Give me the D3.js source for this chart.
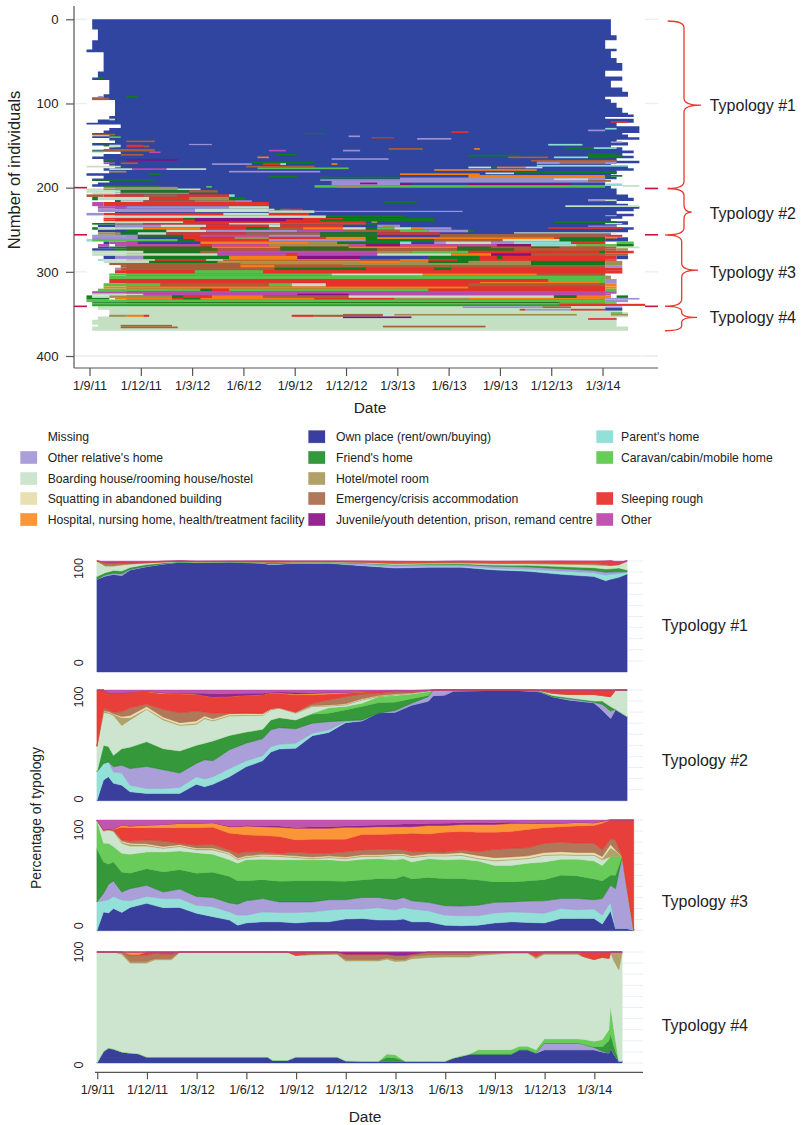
<!DOCTYPE html>
<html>
<head>
<meta charset="utf-8">
<script src="https://cdn.jsdelivr.net/npm/d3@7"></script>
<style>
  html, body { margin: 0; padding: 0; background: #fff; }
  svg { display: block; }
  text { font-family: "Liberation Sans", Arial, sans-serif; fill: #222; }
</style>
</head>
<body>
<div id="chart"></div>
<script>
// Housing states, in stacking order
const own = 0, par = 1, rel = 2, fri = 3, car = 4, boa = 5, hot = 6, squ = 7, eme = 8, slp = 9, hos = 10, juv = 11, oth = 12;
const lineColors = ['#2f45a0', '#8adcd4', '#9c90d0', '#0f7a1e', '#55c04a', '#c4dfc2', '#a09050', '#e6dc9e', '#a5603a', '#e2322a', '#f57f17', '#861080', '#b84cb0'];
const fillColors = ['#3a3f9e', '#93e0d8', '#ab9fd9', '#35983a', '#69cc5a', '#cde5cf', '#b0a26a', '#e8e0b4', '#b0785a', '#e83f3a', '#fb9638', '#93268f', '#c055b0'];

// Legend, read column by column
const legendLabels = ['Missing', "Other relative's home", 'Boarding house/rooming house/hostel', 'Squatting in abandoned building', 'Hospital, nursing home, health/treatment facility',
  'Own place (rent/own/buying)', "Friend's home", 'Hotel/motel room', 'Emergency/crisis accommodation', 'Juvenile/youth detention, prison, remand centre',
  "Parent's home", 'Caravan/cabin/mobile home', '', 'Sleeping rough', 'Other'];
const legendStates = [null, rel, boa, squ, hos, own, fri, hot, eme, juv, par, car, null, slp, oth];

const topTickRows = [0, 100, 200, 300, 400];
const dateLabels = ['1/9/11', '1/12/11', '1/3/12', '1/6/12', '1/9/12', '1/12/12', '1/3/13', '1/6/13', '1/9/13', '1/12/13', '1/3/14'];
const typologyNames = ['Typology #1', 'Typology #2', 'Typology #3', 'Typology #4'];

// Index plot. Time unit is a ten day period; each row is one person.
// Outer edges of the main state as [last row, period]
const leftEdge = [[12, 0], [25, 1], [36, 0], [39, -1], [62, 2], [69, 1], [72, 0], [89, 3], [93, 2], [96, 0], [115, 4], [119, 3], [123, 1], [125, -1], [129, 5], [132, 3], [135, 2], [137, 0], [139, 3], [141, 0], [144, 3], [147, 4], [150, 0], [152, 4], [155, 3], [157, 0], [160, 5], [163, 2], [166, 0], [170, 2], [174, 3], [177, 4], [180, 2], [183, 3], [186, -1], [189, 2], [192, 0], [194, 3], [196, 1], [199, 0], [256, 4], [341, 6], [345, 1], [353, 3], [357, 1], [363, 0], [365, 1], [370, 0]];
const rightEdge = [[19, 91], [25, 92], [35, 90], [38, 92], [46, 91], [52, 92], [61, 93], [68, 90], [73, 93], [81, 91], [86, 93], [92, 94], [95, 90], [99, 91], [105, 92], [111, 93], [113, 94], [116, 95], [118, 90], [123, 95], [127, 92], [130, 96], [135, 96], [137, 93], [140, 94], [143, 96], [146, 92], [150, 94], [152, 91], [156, 93], [159, 95], [162, 93], [165, 95], [168, 92], [171, 96], [174, 91], [177, 94], [180, 95], [184, 92], [187, 91], [190, 92], [194, 90], [198, 90], [201, 91], [205, 92], [208, 92], [212, 94], [216, 95], [219, 92], [222, 94], [225, 96], [228, 95], [231, 92], [234, 95], [237, 93], [240, 91], [244, 94], [247, 92], [250, 95], [253, 94], [256, 91], [341, 90], [345, 90], [348, 93], [354, 94], [362, 92], [365, 92], [370, 94]];
// Main state of each typology block as [first row, last row, state]
const baseBlocks = [[0, 256, own], [256, 341, slp], [341, 370, boa]];

// Spells as [first row, last row, first period, last period, state]
const typology1Spells = [
  [69, 71, 1, 2, fri], [91, 93, 1, 2, rel], [93, 96, 0, 3, eme], [91, 93, 6, 8, fri], [118, 120, 3, 4, boa],
  [135, 136.5, 37, 41, fri], [138, 140, 45, 47, rel], [140, 141.5, 49, 53, slp], [153, 155, 52, 54, eme], [148, 149.5, 17, 21, rel],
  [155, 157, 31, 34, oth], [160, 161.5, 32, 36, fri], [163, 165, 29, 31, hos], [155, 157, 44, 47, rel], [165, 167, 42, 52, rel],
  [171, 173, 42, 43, hos], [169, 171, 28, 39, fri], [171, 173, 21, 28, rel], [171, 173, 30, 33, slp], [171, 173, 33, 34, boa],
  [174, 176, 27, 39, eme], [176, 178, 29, 45, car], [180, 182, 24, 40, rel], [177, 179, 13, 20, boa], [177, 179, 7, 13, oth],
  [183, 185, 10, 12, fri], [186, 188, 31, 36, fri], [187, 189, 40, 54, fri], [190, 192, 40, 54, rel], [192, 197, 42, 54, rel],
  [194, 196, 47, 50, juv], [197, 200, 39, 54, car], [197, 200, 43, 47, hot], [198, 200, 20, 21, car], [216, 218, 51, 57, fri],
  [136, 138, 0, 4, eme], [139, 141, 3, 5, car], [144, 146, 6, 11, eme], [149, 152, 6, 9, slp], [149, 151, 2, 3, fri],
  [149, 152, 3, 5, boa], [150, 152, 9, 10, eme], [154, 157, 2, 11, eme], [156, 158, 0, 2, car], [157, 159, 10, 12, oth],
  [160, 162, 5, 9, eme], [166, 168, 2, 4, fri], [166, 168, 6, 15, juv], [170, 172, 2, 4, oth], [170, 172, 5, 8, eme],
  [174, 176, -1, 5, boa], [177, 179, 3, 7, boa], [180, 182, 3, 6, hot], [190, 192, 0, 11, fri], [197, 199, 2, 12, fri],
  [199, 201, 2, 15, hot],
  [133, 135, 63, 66, slp], [141, 143, 57, 63, rel], [131, 133, 87, 90, rel], [129, 131, 90, 92, par], [121, 123, 91, 94, slp],
  [148, 150, 80, 86, par], [152, 154, 83, 88, fri], [152, 154, 88, 92, par], [145, 147, 91, 93, rel], [153, 155, 54, 58, eme],
  [153, 155, 67, 68, hos], [159, 161, 87, 92, fri], [161, 163, 66, 75, fri], [163, 165, 73, 80, eme], [163, 165, 81, 87, par],
  [161, 165, 87, 91, fri], [161, 164, 91, 93, fri], [167, 169, 77, 92, eme], [169, 172, 78, 92, rel], [170, 172, 82, 90, eme],
  [173, 175, 78, 94, par], [175, 177, 66, 70, boa], [175, 177, 70, 71, fri], [175, 177, 71, 76, hos], [175, 177, 76, 79, boa],
  [178, 180, 60, 78, hos], [181, 183, 74, 92, fri], [182, 184, 69, 74, boa], [183, 185, 54, 68, hos], [185, 189, 66, 90, hos],
  [185, 187, 90, 93, fri], [188, 194, 54, 90, rel], [189, 191, 81, 87, boa], [191, 193, 87, 91, eme], [195, 197, 54, 56, juv],
  [195, 197, 66, 84, juv], [197, 200, 54, 90, car], [195, 198, 90, 93, par], [197, 199, 93, 96, boa]
];
const typology2Spells = [
  [201, 203, -1, 19, boa], [201, 203, 2, 15, hot], [203, 206, -1, 5, boa], [203, 206, 5, 17, fri], [203, 206, 17, 22, eme],
  [206, 208, 0, 5, boa], [206, 208, 5, 17, hot], [206, 208, 17, 22, fri], [208, 211, -1, 2, eme], [208, 211, 2, 9, slp],
  [208, 211, 9, 15, eme], [208, 211, 15, 24, slp], [208, 211, 24, 25, par], [211, 215, 0, 1, fri], [211, 215, 1, 10, boa],
  [211, 215, 10, 17, slp], [211, 215, 17, 24, hot], [211, 215, 24, 27, fri], [215, 217, 4, 5, fri], [215, 217, 5, 9, boa],
  [215, 217, 9, 18, eme], [215, 217, 18, 25, hot], [215, 217, 25, 28, rel], [217, 222, 0, 2, oth], [217, 222, 2, 31, slp],
  [222, 225, 1, 6, oth], [222, 225, 6, 24, rel], [222, 225, 24, 31, boa], [225, 229, 1, 18, rel], [225, 229, 18, 31, boa],
  [225, 227, 31, 32, boa], [225, 227, 32, 33, fri], [225, 227, 33, 35, eme], [225, 227, 35, 37, slp], [227, 230, 31, 39, boa],
  [227.5, 229, 39, 65, rel], [230, 233, -1, 2, rel], [230, 233, 2, 23, slp], [230, 233, 23, 31, boa], [230, 233, 31, 38, slp],
  [233, 236, 2, 41, boa], [233, 235, 41, 55, fri], [236, 238, 2, 16, slp], [236, 238, 16, 18, fri], [236, 238, 18, 37, juv],
  [236, 238, 37, 44, slp], [236, 238, 44, 60, fri], [238, 240, 2, 18, slp], [238, 240, 18, 34, juv], [238, 240, 34, 40, slp],
  [238, 240, 40, 60, fri], [240, 242, 2, 16, boa], [240, 242, 16, 48, slp], [240, 242, 49, 50, hot], [242, 244, 0, 4, fri],
  [242, 244, 4, 9, hot], [242, 244, 9, 24, slp], [242, 244, 24, 33, boa], [242, 244, 33, 48, eme], [242, 244, 48, 50, fri],
  [244, 247, 1, 4, own], [244, 247, 4, 12, rel], [244, 247, 12, 20, boa], [244, 247, 20, 31, slp], [244, 247, 31, 33, boa],
  [244, 247, 33, 44, slp], [244, 247, 50, 54, rel], [245, 247, 51, 53, hot], [247, 250, 0, 1, fri], [247, 250, 1, 9, boa],
  [247, 250, 9, 19, hos], [247, 250, 19, 27, slp], [247, 250, 27, 31, fri], [247, 250, 31, 37, eme], [247, 250, 37, 44, hos],
  [247, 250, 44, 48, boa], [247, 250, 48, 50, fri], [247, 250, 50, 53, car], [247, 250, 53, 56, boa], [247, 250, 56, 58, hos],
  [247, 250, 58, 63, rel], [250, 253, 1, 6, own], [250, 253, 6, 13, fri], [250, 253, 13, 20, boa], [250, 253, 20, 36, rel],
  [250, 253, 36, 44, oth], [250, 253, 44, 54, eme], [250, 253, 54, 59, car], [250, 253, 59, 66, rel], [250, 253, 66, 67, fri],
  [253, 256, 1, 5, hot], [253, 256, 5, 8, fri], [253, 256, 8, 13, boa], [253, 256, 13, 27, slp], [253, 256, 27, 40, eme],
  [253, 256, 40, 50, fri], [253, 256, 50, 61, slp], [255, 256, 61, 90, eme], [253, 254.5, 74, 92, boa],
  [214, 216, 87, 92, boa], [214, 216, 87, 90, rel], [221, 223, 83, 96, boa], [240, 242, 81, 92, fri], [245, 246.5, 87, 92, rel],
  [247, 249, 80, 93, slp], [232.5, 234, 90, 92, rel], [242, 243.5, 90, 93, boa]
];
const typology3Spells = [
  [256, 258.5, 0, 8, rel], [256, 258.5, 8, 16, fri], [256, 258.5, 16, 19, slp], [256, 258.5, 19, 31, oth], [256, 258.5, 31, 40, rel],
  [256, 258.5, 40, 50, fri], [256, 258.5, 50, 61, own], [256, 259, 61, 90, eme], [256, 258.5, 90, 93, slp],
  [258.5, 261, 0, 8, rel], [258.5, 261, 8, 16, own], [258.5, 261, 16, 25, slp], [258.5, 261, 25, 31, hot], [258.5, 261, 31, 41, slp],
  [258.5, 261, 41, 48, hos], [258.5, 261, 48, 50, fri], [259, 261, 50, 81, hos], [259, 261, 82, 90, fri], [259, 261, 90, 92, eme], [259, 261, 92, 94, own],
  [261, 264, -1, 0, par], [261, 264, 0, 15, car], [261, 264, 15, 18, fri], [261, 264, 18, 31, slp], [261, 264, 31, 48, rel],
  [261, 264, 48, 60, fri], [261, 264, 60, 72, eme], [261, 264, 72, 82, boa], [261, 264, 82, 90, fri], [261, 264, 90, 94, own],
  [264, 267, 2, 3, own], [264, 267, 3, 8, oth], [264, 267, 8, 19, own], [264, 267, 19, 38, hos], [264, 267, 38, 43, hot],
  [264, 267, 43, 54, fri], [264, 267, 54, 56, par], [264, 267, 56, 60, own], [264, 267, 60, 62, rel], [264, 267, 62, 70, boa],
  [264, 267, 70, 74, rel], [264, 267, 74, 84, par], [264, 267, 84, 90, slp], [264, 267, 92, 95, car],
  [267, 270, 1, 3, oth], [267, 270, 4, 19, oth], [267, 270, 19, 21, slp], [267, 270, 21, 31, oth], [267, 270, 31, 45, hot],
  [267, 270, 45, 48, oth], [267, 270, 48, 54, juv], [267, 270, 54, 71, oth], [267, 270, 71, 77, juv], [267, 270, 77, 85, par],
  [267, 270, 85, 92, car], [267, 270, 92, 95, fri],
  [270, 272, 1, 3, own], [270, 272, 3, 21, fri], [270, 272, 21, 33, hos], [270, 272, 33, 45, fri], [270, 272, 45, 64, hos],
  [270, 272, 64, 70, fri], [270, 272, 70, 77, eme], [270, 272, 77, 82, fri], [270, 272, 82, 92, eme], [270, 272, 92, 96, boa],
  [272, 275, 0, 4, own], [272, 275, 4, 22, fri], [272, 275, 22, 33, eme], [272, 275, 33, 50, fri], [272, 275, 50, 64, eme],
  [272, 275, 64, 74, fri], [272, 275, 74, 92, eme], [272, 275, 92, 94, hot],
  [275, 278, 0, 9, boa], [275, 278, 9, 19, fri], [275, 278, 19, 22, eme], [275, 278, 22, 50, oth], [275, 278, 50, 56, hot],
  [275, 278, 56, 66, car], [275, 278, 66, 89, slp], [275, 278, 89, 90, fri], [275, 278, 90, 95, slp],
  [278, 281, 0, 22, boa], [278, 281, 22, 34, oth], [278, 281, 34, 36, slp], [278, 281, 36, 50, oth], [278, 281, 50, 63, boa],
  [278, 281, 63, 70, hos], [278, 281, 70, 77, juv], [278, 281, 77, 94, eme],
  [281, 285, 2, 4, own], [281, 285, 4, 9, rel], [281, 285, 9, 24, fri], [281, 285, 24, 36, hos], [281, 285, 36, 47, juv],
  [281, 285, 47, 59, own], [281, 285, 59, 68, fri], [281, 285, 68, 71, slp], [281, 285, 71, 72, fri], [281, 285, 72, 92, slp], [281, 285, 92, 94, own],
  [285, 287, 1, 2, par], [285, 287, 2, 11, boa], [285, 287, 11, 20, slp], [285, 287, 20, 23, boa], [285, 287, 23, 47, hos],
  [285, 287, 47, 54, eme], [285, 287, 54, 59, hos], [285, 287, 59, 64, slp], [285, 287, 64, 68, fri], [285, 287, 68, 92, slp],
  [286, 287, 23, 47, eme],
  [287, 289.5, 2, 10, boa], [287, 289.5, 10, 22, fri], [287, 289.5, 22, 54, hos], [287, 289.5, 54, 59, hot], [287, 289.5, 59, 66, fri],
  [287, 289.5, 66, 77, hot], [287, 289.5, 77, 90, fri], [287, 289.5, 90, 93, hot], [288.5, 289.5, 22, 47, hot],
  [289.5, 292, 3, 26, eme], [289.5, 292, 26, 44, hos], [289.5, 292, 44, 77, hot], [289.5, 292, 77, 90, fri], [289.5, 292, 90, 93, hot],
  [290.5, 291.5, 26, 44, eme],
  [292, 295, 5, 26, eme], [292, 295, 26, 32, hos], [292, 295, 32, 90, eme], [292, 295, 90, 93, rel],
  [295, 298, 4, 5, rel], [295, 298, 5, 32, eme], [295, 298, 32, 48, fri], [295, 298, 48, 60, slp], [295, 298, 60, 63, fri], [295, 298, 63, 93, slp],
  [298, 302, 4, 18, slp], [298, 302, 18, 30, car], [298, 302, 30, 93, slp],
  [302, 304.5, 3, 42, car], [302, 304.5, 42, 58, boa], [302, 304.5, 58, 78, hos], [302, 304.5, 78, 90, eme],
  [304.5, 308.5, 3, 90, car], [304.5, 308.5, 90, 91, hot],
  [308.5, 313.5, 3, 80, slp], [308.5, 313.5, 80, 90, car], [308.5, 313.5, 90, 92, rel], [312, 314, 68, 89, hos],
  [313.5, 317.5, 2, 12, car], [313.5, 317.5, 12, 31, eme], [313.5, 317.5, 31, 35, car], [313.5, 317.5, 35, 41, boa], [313.5, 317.5, 41, 66, slp],
  [313.5, 317.5, 66, 90, eme], [313.5, 317.5, 90, 92, hos],
  [317.5, 320, 2, 66, hos], [317.5, 320, 66, 90, slp], [317.5, 320, 90, 92, hos],
  [320, 323, 1, 19, car], [320, 323, 19, 21, fri], [320, 323, 21, 24, slp], [320, 323, 24, 59, car], [320, 323, 59, 90, slp], [320, 323, 90, 92, car],
  [323, 326, 0, 92, oth], [326, 328, 0, 9, boa], [326, 328, 9, 36, oth], [326, 328, 36, 45, juv], [326, 328, 45, 91, oth],
  [328, 331, -1, 0, fri], [328, 331, 0, 3, boa], [328, 331, 3, 14, hot], [328, 331, 14, 16, fri], [328, 331, 16, 21, slp],
  [328, 331, 21, 30, hos], [328, 331, 30, 45, eme], [328, 331, 45, 81, boa], [328, 331, 81, 85, fri], [328, 331, 85, 91, hos], [328, 331, 92, 94, fri],
  [331, 333, -1, 3, fri], [331, 333, 4, 14, hos], [331, 333, 14, 16, slp], [331, 333, 16, 19, fri], [331, 333, 19, 39, hos], [331, 333, 39, 53, slp],
  [331, 333, 53, 66, hot], [331, 333, 66, 90, hos], [331, 333, 90, 96, rel],
  [333, 336, -1, 90, car], [333, 336, 90, 94, rel], [336, 337, 0, 82, fri], [336, 338, 82, 92, car],
  [337, 341, 0, 82, car], [339, 340, 0, 82, fri], [338, 340.5, 82, 97, slp]
];
const typology4Spells = [
  [341, 343, 65, 79, rel], [341, 343, 79, 84, eme], [341, 343, 90, 93, rel], [344, 346, 75, 76, slp], [344, 346, 76, 84, rel], [344, 346, 84, 90, slp], [343, 346, 90, 93, own],
  [351, 353.5, 3, 6, hot], [351, 353.5, 6, 9, hos], [351, 353.5, 9, 10, slp], [351, 353.5, 35, 39, slp], [351, 353.5, 39, 44, eme],
  [350, 353, 44, 51, eme], [353, 355, 44, 56, juv], [350, 352, 53, 85, hot], [350, 352, 91, 94, hot], [355, 357, 87, 92, slp],
  [348, 350, 91, 93, car], [363, 365, 5, 14, eme], [365, 367, 5, 15, eme], [364, 366, 51, 69, eme]
];

// Percentage panels. Each array is the cumulative percent at the top of that band.
const t1Months = [0, .5, 1, 1.5, 2, 3, 4, 5, 6, 8, 10, 10.5, 12, 14, 16, 18, 20, 22, 24, 26, 28, 30, 30.7, 31, 31.5, 32];
const t1Own = [83.5, 86.5, 88, 87, 92, 95, 97.3, 99, 98.5, 99, 97.9, 96.7, 98, 98, 95.8, 93.7, 94.3, 94.3, 92, 90.7, 88, 86, 82.3, 83.5, 85.3, 88.3];
const t1Parent = [83.5, 86.5, 88, 87, 92, 95, 97.3, 99, 98.7, 99.2, 98.2, 97, 98.2, 98.3, 96.4, 94.5, 95.3, 95.3, 93.5, 92.7, 91, 89.5, 87.3, 88, 88.8, 89.8];
const t1Relative = [83.5, 87.5, 89, 88.5, 92.5, 95.3, 97.5, 99, 98.7, 99.2, 98.5, 97.5, 98.5, 98.8, 97.9, 96.5, 96.8, 96.8, 95.3, 94.7, 93, 91.5, 89.8, 90, 90.3, 90.3];
const t1Friend = [86, 89.5, 91.5, 91, 94.2, 96.8, 98.3, 99.3, 98.9, 99.3, 99, 98.5, 98.8, 99.1, 98.2, 96.8, 97.3, 97.6, 96.3, 96.2, 95, 94, 92.8, 93, 93.8, 91.8];
const t1Caravan = t1Friend;
const t1Boarding = [100, 95.5, 95.5, 96.5, 97.2, 98.3, 99.2, 99.8, 99.3, 99.5, 99.2, 98.8, 99.2, 99.4, 98.8, 97.6, 98, 98.2, 97.5, 97.5, 97, 96.5, 96, 96, 96.5, 100];
const t1Hotel = [100, 95.7, 95.7, 96.7, 97.4, 98.4, 99.2, 99.8, 99.3, 99.5, 99.2, 98.8, 99.2, 99.4, 98.9, 97.8, 98.2, 98.4, 97.8, 97.8, 97.3, 96.8, 96.2, 96.2, 96.7, 100];
const t1Squat = t1Hotel;
const t1Emergency = [100, 98, 97.5, 98.2, 98.2, 98.5, 99.2, 99.8, 99.4, 99.6, 99.4, 99.1, 99.3, 99.5, 99.1, 98.4, 98.6, 99, 98.4, 98.5, 98.3, 98, 97, 96, 97, 100];
const t1Sleeping = [100, 99, 99, 99.4, 99.2, 99.3, 99.7, 100, 99.7, 99.8, 99.8, 99.8, 99.8, 99.8, 99.6, 99.4, 99.3, 99.4, 99.2, 99.2, 99.4, 99.4, 99.7, 100, 99, 100];
const t1Hospital = [100, 99, 99, 99.4, 99.2, 99.3, 99.7, 100, 99.7, 99.8, 99.9, 99.9, 99.8, 99.8, 99.8, 99.6, 99.5, 99.8, 99.6, 99.7, 99.8, 99.7, 99.8, 100, 99, 100];
const t1Juvenile = t1Hospital;

const t2Months = [0, .4, .7, 1, 1.5, 2, 3, 4, 5, 6, 6.5, 7, 8, 9, 10, 10.5, 11, 12, 13, 14, 15, 16, 17, 18, 19, 20, 20.3, 21, 21.5, 25, 26.7, 27.5, 28.5, 30, 30.5, 31, 31.3, 32];
const t2Own = [0, 18.7, 21.7, 15.7, 14, 8, 6.6, 6.6, 6.6, 14.8, 12.7, 14.8, 21.7, 30.7, 36, 44, 46.7, 47.3, 58.7, 61.7, 70.5, 72, 79.5, 80, 86.4, 90, 94.9, 95.5, 99, 100, 98.5, 94, 91, 88.5, 82, 74.4, 82.5, 76];
const t2Parent = [26, 33.7, 35, 26, 25, 14, 11, 11, 12, 21.7, 19.6, 21.7, 29, 36, 40.7, 48.8, 51, 52, 61, 64, 71.4, 72.5, 79.5, 80, 86.4, 90, 94.9, 95.5, 99, 100, 98.5, 94, 91, 88.5, 82, 74.4, 82.5, 76];
const t2Relative = [26, 33.7, 35, 30.7, 32, 29, 31, 28, 25, 33.7, 37, 36, 46, 52, 56, 64, 66, 65, 70, 71.4, 72.3, 73, 79, 81.5, 88, 94, 100, 100, 100, 100, 98.5, 94, 92, 89, 87, 81, 82.5, 76];
const t2Friend = [26, 50, 49, 41, 47, 48, 53, 47, 45, 50, 52, 54, 59, 62, 64.5, 73, 75, 73, 78, 79, 82, 85, 88.5, 89, 92, 95, 100, 100, 100, 100, 99, 95, 93, 90, 90, 85, 82.5, 76];
const t2Caravan = [26, 50, 49, 41, 47, 48.5, 53.5, 47, 45, 50, 52, 54, 59, 62, 64.5, 73, 75, 73, 79, 84, 85, 88, 94, 95, 96.5, 98.5, 100, 100, 100, 100, 99, 95, 93, 90, 90, 85, 82.5, 76];
const t2Boarding = [49, 79.5, 79, 77, 68, 73, 82.5, 73, 68, 69, 74, 72, 76.5, 77, 76.8, 82, 83.4, 79, 85, 85.5, 86.4, 91, 94, 95.5, 97, 99, 100, 100, 100, 100, 99.5, 97, 96, 96, 95, 94, 100, 100];
const t2Hotel = [49, 80.5, 80, 78, 75, 75, 83, 74, 68.7, 70, 75, 72.7, 77.2, 77.6, 77.3, 82.7, 84, 79.7, 85.5, 86, 87, 91.5, 94.5, 96, 97.2, 99.1, 100, 100, 100, 100, 99.6, 97, 96, 96, 95, 94, 100, 100];
const t2Squat = [49, 81, 80.5, 78.5, 76, 77, 85, 75.5, 70.5, 72, 76.5, 74, 78.5, 79, 78.5, 83.2, 84.5, 80, 86, 86.5, 87.5, 92, 95, 96.5, 97.4, 99.2, 100, 100, 100, 100, 99.6, 97, 96, 96, 95, 94, 100, 100];
const t2Emergency = [49.5, 83.4, 82, 80, 80.5, 84, 87.4, 82.5, 79.5, 81, 80, 79, 79, 79, 79, 83, 84, 80, 88, 91, 94, 96.4, 97, 98.5, 98, 99.5, 100, 100, 100, 100, 99.7, 97, 96, 96, 95, 94, 100, 100];
const t2Sleeping = [100, 100, 97.6, 97, 97.3, 98, 98.5, 96.4, 96.4, 96, 94.6, 93.4, 94, 95, 95.5, 97, 97, 95.5, 95.5, 96.4, 97, 98, 99, 99.4, 99, 99.5, 100, 100, 100, 100, 100, 100, 100, 100, 100, 100, 100, 100];
const t2Hospital = [100, 100, 97.6, 97, 97.3, 98, 99, 97.5, 97, 96.2, 94.8, 93.6, 94.2, 95.2, 95.7, 97.5, 97.5, 96.5, 96.8, 97.6, 98, 98.6, 99.2, 99.6, 99.5, 99.8, 100, 100, 100, 100, 100, 100, 100, 100, 100, 100, 100, 100];
const t2Juvenile = [100, 100, 97.6, 97, 97.3, 98, 99, 97.5, 97, 97, 97, 96.5, 96.8, 97, 97, 98, 98.2, 98, 97.5, 98, 98, 98.6, 99.2, 99.6, 99.5, 99.8, 100, 100, 100, 100, 100, 100, 100, 100, 100, 100, 100, 100];

const t3Months = [0, .4, .7, 1, 1.5, 2, 3, 4, 5, 6, 7, 8, 8.5, 9, 10, 11, 12, 13, 14, 15, 16, 17, 18, 18.5, 19, 20, 21, 22, 23, 24, 25, 26, 27, 28, 29, 30, 30.5, 31, 31.3, 31.7, 32, 32.4];
const t3Own = [0, 17, 16, 20, 16.5, 21, 24.7, 20.8, 21, 15.7, 12.7, 9.6, 5, 7, 8, 8, 7, 8, 8, 10.5, 11, 9.6, 9.6, 10.5, 8, 8, 5, 4.5, 5, 7, 8, 7.5, 7, 11, 11, 11, 6, 17.8, 2, 2, 2, .5];
const t3Parent = [26, 27, 28, 31, 27.7, 27, 31, 29, 29, 23, 21.7, 17, 14, 14, 17, 16.5, 16.5, 17, 18.7, 19.6, 19.6, 20.8, 18.7, 21, 19.6, 18, 14, 13.5, 13.5, 16, 17, 16.5, 15.7, 20, 19, 19.6, 14, 26, 2, 2, 2, .5];
const t3Relative = [26, 33.7, 42, 45, 35, 38, 41, 35, 37.6, 31, 30, 25, 24, 27, 29, 26, 26, 26, 28, 28, 30, 30, 28, 30, 27, 25.6, 22.6, 22.3, 23, 25.6, 26, 26.8, 27, 29, 29, 28, 29, 41, 38, 67, 38, .5];
const t3Friend = [74, 62, 60, 62, 52.7, 52, 56, 53, 55, 52, 52.7, 49, 45, 45, 46, 44.6, 45, 45, 45, 44.6, 45.8, 47, 47, 49.4, 46.7, 48, 47, 47, 45.8, 44, 44, 45, 46, 50, 49.5, 46.7, 45, 50, 50, 67, 38, .5];
const t3Caravan = [100, 79, 79, 76, 70, 69, 71, 71, 72, 70.5, 69, 64, 61, 64, 64.5, 64, 64, 64, 64, 63, 64.5, 65, 64, 65, 62, 65, 64, 64.5, 63, 59, 59, 61, 62, 64.5, 64.5, 63, 59, 67, 67, 67, 38, .5];
const t3Boarding = [100, 90, 91, 90, 79, 76.5, 76.5, 74.4, 76, 73, 73, 69, 64, 66, 67.5, 67, 66, 65, 66, 65, 67, 67, 68, 68, 66, 67.5, 67.5, 68, 65, 63, 64, 65, 68, 68.4, 68, 68, 64, 67, 67, 67, 38, .5];
const t3Hotel = [100, 90, 91, 90, 80, 78, 77.5, 75, 76.7, 73.7, 73.7, 69.6, 64.6, 66.6, 68, 67.6, 66.6, 65.6, 66.6, 65.6, 67.6, 67.6, 68.6, 68.6, 66.6, 68, 68, 68.6, 65.6, 63.6, 64.6, 65.6, 68.6, 69, 68.6, 68.6, 65, 75, 72, 67, 38, .5];
const t3Squat = [100, 90.5, 91, 90, 81, 79, 78.5, 76, 77.7, 74.7, 74.7, 70.6, 65.6, 67.6, 69, 68.6, 67.6, 66.6, 67.6, 66.6, 68.6, 68.6, 69.6, 69.6, 67.6, 69.5, 69.5, 70.5, 68, 66, 66.6, 67.6, 70.6, 71.4, 70.6, 70.6, 67, 78, 73, 67, 38, .5];
const t3Emergency = [100, 91, 92, 91, 82, 81, 82, 81, 79, 77.4, 78, 73, 70, 71.4, 71.4, 70, 71, 70, 70, 71.4, 73, 73.5, 73.5, 73, 71.4, 71.4, 71, 73, 71.4, 73.5, 74.4, 75, 79, 80, 79, 79, 73, 83, 82, 67, 38, .5];
const t3Sleeping = [100, 91, 92, 91.5, 93.4, 93, 93, 93, 93, 93, 93.5, 88, 87.3, 86.4, 86, 85, 82, 82.5, 82.5, 82.5, 87, 87, 87.3, 87.3, 88, 87.3, 88.9, 89.5, 88.9, 88.9, 89.5, 91.5, 93, 94, 94.6, 95, 97, 100, 100, 100, 100, 100];
const t3Hospital = [100, 91, 92, 92, 95.5, 94.6, 95.5, 96, 97, 97, 97.6, 94, 94, 94.6, 94, 93.5, 92.5, 92.5, 92.5, 93.4, 93.4, 94, 94, 94, 94, 95, 95, 96, 96, 96, 97, 97, 97, 97, 98, 97.5, 99, 100, 100, 100, 100, 100];
const t3Juvenile = [100, 91, 92, 92, 95.5, 94.6, 95.5, 96, 97, 97, 97.6, 94.3, 94.3, 95, 94.5, 94.5, 93, 94, 94, 94.5, 95, 95.5, 96, 96.3, 96.5, 96.8, 97, 97.5, 97.8, 97.5, 98, 97.5, 97, 97, 98, 97.5, 99, 100, 100, 100, 100, 100];

const t4Months = [0, .4, .7, 1, 1.5, 2, 2.5, 3, 3.5, 4, 4.5, 5, 10.3, 10.6, 11.5, 12, 13, 14.5, 15, 16, 17, 17.5, 18, 18.6, 19, 20, 21, 21.5, 22.5, 23, 25, 25.5, 26, 26.5, 27, 29, 29.3, 30, 30.5, 30.9, 31, 31.2, 31.5, 31.7];
const t4Own = [0, 10.5, 13.5, 12.6, 10, 9, 8.4, 5.4, 5.4, 5.4, 5.4, 5.4, 5.4, 2.4, 2.4, 5.4, 5.4, 5.4, 2, 1.5, 1.5, 1.5, 1.5, 1.5, 1.5, 1.5, 1.5, 4.5, 8, 8, 8, 12, 12, 9, 12, 12, 12, 12, 10, 9, 14, 8, 1.5, 1.5];
const t4Parent = t4Own;
const t4Relative = [0, 10.5, 13.5, 12.6, 10, 9, 8.4, 5.4, 5.4, 5.4, 5.4, 5.4, 5.4, 2.4, 2.4, 5.4, 5.4, 5.4, 2, 1.5, 1.5, 1.5, 1.5, 1.5, 1.5, 1.5, 1.5, 4.5, 8, 8, 8, 12, 12, 9, 18, 18, 17, 14, 10.5, 9, 14, 8, 1.5, 1.5];
const t4Friend = [0, 10.5, 13.5, 12.6, 10, 9, 8.4, 5.4, 5.4, 5.4, 5.4, 5.4, 5.4, 2.4, 2.4, 5.4, 5.4, 5.4, 2, 1.5, 1.5, 5, 4.5, 1.5, 1.5, 1.5, 1.5, 4.5, 8, 8, 8, 12, 12, 9, 18, 18, 17, 14.5, 14.5, 20, 25.5, 15, 1.5, 1.5];
const t4Caravan = [0, 10.5, 13.5, 12.6, 10, 9, 8.4, 5.4, 5.4, 5.4, 5.4, 5.4, 5.4, 2.4, 2.4, 5.4, 5.4, 5.4, 2, 1.5, 1.5, 8, 7.5, 1.5, 1.5, 1.5, 1.5, 4.5, 8, 12, 12, 15, 15, 12, 21.6, 21.6, 21.5, 19.5, 21, 30, 50.5, 30, 1.5, 1.5];
const t4Boarding = [100, 100, 100, 100, 98, 90, 90, 90, 93, 93, 93, 100, 100, 100, 100, 97, 97.5, 98, 92, 92, 92, 93.5, 91.5, 92, 94, 95, 95.5, 95.5, 95.5, 97, 99, 99, 99, 94, 98, 98, 96, 93, 95, 94, 100, 92, 84, 100];
const t4Hotel = [100, 100, 100, 100, 99, 91.5, 91.5, 91.5, 94, 94, 94, 100, 100, 100, 100, 97, 97.8, 98.3, 93, 93, 93, 94.5, 93, 93, 96, 97, 97, 97, 97, 98, 99.3, 99.3, 99.3, 95.5, 98.5, 98.5, 96.3, 93.3, 95.3, 94.3, 100, 100, 100, 100];
const t4Squat = t4Hotel;
const t4Emergency = [100, 100, 100, 100, 100, 97, 97, 97, 99, 98, 98, 100, 100, 100, 100, 97, 99, 99.5, 98, 98, 98, 98, 97, 97, 98, 99.5, 99.5, 99.5, 99.5, 99.7, 99.7, 99.7, 99.7, 96, 100, 100, 96.3, 93.3, 95.3, 94.3, 100, 100, 100, 100];
const t4Sleeping = [100, 100, 100, 100, 100, 97.5, 97.5, 100, 100, 100, 100, 100, 100, 100, 100, 100, 100, 100, 98, 98, 98, 98, 97, 97, 98, 100, 100, 100, 100, 100, 100, 100, 100, 100, 100, 100, 100, 100, 100, 100, 100, 100, 100, 100];
const t4Hospital = [100, 100, 100, 100, 100, 100, 100, 100, 100, 100, 100, 100, 100, 100, 100, 100, 100, 100, 98, 98, 98, 98, 97, 97, 98, 100, 100, 100, 100, 100, 100, 100, 100, 100, 100, 100, 100, 100, 100, 100, 100, 100, 100, 100];
const t4Juvenile = [100, 100, 100, 100, 100, 100, 100, 100, 100, 100, 100, 100, 100, 100, 100, 100, 100, 100, 100, 100, 100, 100, 100, 100, 100, 100, 100, 100, 100, 100, 100, 100, 100, 100, 100, 100, 100, 100, 100, 100, 100, 100, 100, 100];

const panels = [
    { name: typologyNames[0], top: 561, bottom: 672, months: t1Months, labelY: [662.7, 568.5], tickValues: [100, 90, 80, 70, 60, 50, 40, 30, 20, 10], tickX: 628, nameY: 625,
      bands: [t1Own, t1Parent, t1Relative, t1Friend, t1Caravan, t1Boarding, t1Hotel, t1Squat, t1Emergency, t1Sleeping, t1Hospital, t1Juvenile] },
    { name: typologyNames[1], top: 690, bottom: 800.7, months: t2Months, labelY: [799, 697], tickValues: [100, 90, 80, 70, 60, 50, 40, 30, 20, 10], tickX: 628, nameY: 760,
      bands: [t2Own, t2Parent, t2Relative, t2Friend, t2Caravan, t2Boarding, t2Hotel, t2Squat, t2Emergency, t2Sleeping, t2Hospital, t2Juvenile] },
    { name: typologyNames[2], top: 820, bottom: 930.7, months: t3Months, labelY: [925.7, 830], tickValues: [100, 90, 80, 70, 60, 50, 40, 30, 20, 10, 0], tickX: 634, nameY: 901,
      bands: [t3Own, t3Parent, t3Relative, t3Friend, t3Caravan, t3Boarding, t3Hotel, t3Squat, t3Emergency, t3Sleeping, t3Hospital, t3Juvenile] },
    { name: typologyNames[3], top: 952, bottom: 1063, months: t4Months, labelY: [1065, 952], tickValues: [100, 90, 80, 70, 60, 50, 40, 30, 20, 10, 0], tickX: 623, nameY: 1025,
      bands: [t4Own, t4Parent, t4Relative, t4Friend, t4Caravan, t4Boarding, t4Hotel, t4Squat, t4Emergency, t4Sleeping, t4Hospital, t4Juvenile] }
];

const width = 801, height = 1125;
const svg = d3.select('#chart').append('svg').attr('width', width).attr('height', height);

function styleAxis(axisGroup, size) {
    axisGroup.selectAll('.domain').attr('stroke', '#555').attr('stroke-width', 1.2);
    axisGroup.selectAll('.tick line').attr('stroke', '#555').attr('stroke-width', 1.2);
    axisGroup.selectAll('text').style('font-size', size + 'px').attr('fill', '#222');
}

function edgeAt(edge, row) {
    const step = edge.find(d => row < d[0]);
    return step ? step[1] : edge[edge.length - 1][1];
}

function drawIndexPlot() {
    const xPeriod = d3.scaleLinear().domain([0, 90]).range([92.2, 605.2]);
    const yRow = d3.scaleLinear().domain([0, 400]).range([19.3, 356]);
    const firstTick = -0.47;
    const g = svg.append('g');

    // Reference bars behind the sequences
    topTickRows.forEach(row => {
        [[74, 87], [645, 658]].forEach(ends => {
            g.append('line').attr('x1', ends[0]).attr('x2', ends[1])
                .attr('y1', yRow(row)).attr('y2', yRow(row))
                .attr('stroke', '#e9f0f3').attr('stroke-width', 1.4);
        });
    });
    g.append('line').attr('x1', 74).attr('x2', 658).attr('y1', yRow(400)).attr('y2', yRow(400))
        .attr('stroke', '#e9f0f3').attr('stroke-width', 1.4);

    // Main state of each block as one stepped outline, so rows leave no seams
    baseBlocks.forEach(block => {
        const rows = d3.range(block[0], block[1]);
        const left = rows.flatMap(row => [[xPeriod(edgeAt(leftEdge, row)), yRow(row)], [xPeriod(edgeAt(leftEdge, row)), yRow(row + 1)]]);
        const right = rows.flatMap(row => [[xPeriod(edgeAt(rightEdge, row)), yRow(row)], [xPeriod(edgeAt(rightEdge, row)), yRow(row + 1)]]);
        g.append('path')
            .attr('d', d3.line()(left.concat(right.reverse())) + 'Z')
            .attr('fill', lineColors[block[2]]);
    });

    const spells = typology1Spells.concat(typology2Spells, typology3Spells, typology4Spells);
    g.selectAll('.spell').data(spells).enter().append('rect')
        .attr('class', 'spell')
        .attr('x', d => xPeriod(d[2]))
        .attr('y', d => yRow(d[0]))
        .attr('width', d => xPeriod(d[3]) - xPeriod(d[2]))
        .attr('height', d => yRow(d[1]) - yRow(d[0]))
        .attr('fill', d => lineColors[d[4]]);

    // Red marks at the cluster limits
    [[74, 87, 200], [645, 658, 201], [74, 87, 256], [645, 658, 256], [74, 87, 341], [645, 658, 341]].forEach(m => {
        g.append('line').attr('x1', m[0]).attr('x2', m[1]).attr('y1', yRow(m[2])).attr('y2', yRow(m[2]))
            .attr('stroke', '#c8143c').attr('stroke-width', 1.6);
    });

    // Axes
    const tickPeriods = dateLabels.map((d, i) => firstTick + 9 * i);
    const xAxis = d3.axisBottom(xPeriod).tickValues(tickPeriods).tickSize(8).tickPadding(5)
        .tickFormat((d, i) => dateLabels[i]);
    const xg = g.append('g').attr('transform', 'translate(0,368)').call(xAxis);
    xg.select('.domain').remove();
    xg.append('line').attr('class', 'domain').attr('x1', 74).attr('x2', 658);
    styleAxis(xg, 12.6);

    const yAxis = d3.axisLeft(yRow).tickValues(topTickRows).tickSize(8).tickPadding(7.5);
    const yg = g.append('g').attr('transform', 'translate(74,0)').call(yAxis);
    yg.select('.domain').remove();
    yg.append('line').attr('class', 'domain').attr('y1', 6).attr('y2', 368);
    styleAxis(yg, 13.2);

    g.append('text').attr('x', 370).attr('y', 412.5).attr('text-anchor', 'middle')
        .style('font-size', '15.5px').text('Date');
    g.append('text').attr('transform', 'translate(20,170) rotate(-90)').attr('text-anchor', 'middle')
        .style('font-size', '16.5px').text('Number of individuals');

    // Braces for the four typologies
    const braces = [
        { from: 2, to: 201, tip: 102, start: 667.7, spine: 684, point: 701, label: 105 },
        { from: 201, to: 256, tip: 229, start: 667.7, spine: 684, point: 691.7, label: 213 },
        { from: 256, to: 341, tip: 298, start: 665, spine: 681.7, point: 698, label: 272 },
        { from: 341, to: 370, tip: 354, start: 665, spine: 681.7, point: 697, label: 317 }
    ];
    braces.forEach((b, i) => {
        const y0 = yRow(b.from), y1 = yRow(b.to), yt = yRow(b.tip);
        const bend = Math.min(7, (y1 - y0) / 5);
        const path = `M${b.start},${y0} Q${b.spine},${y0} ${b.spine},${y0 + bend} ` +
            `L${b.spine},${yt - bend} Q${b.spine},${yt} ${b.point},${yt} Q${b.spine},${yt} ${b.spine},${yt + bend} ` +
            `L${b.spine},${y1 - bend} Q${b.spine},${y1} ${b.start},${y1}`;
        g.append('path').attr('d', path).attr('fill', 'none').attr('stroke', '#e8392c').attr('stroke-width', 1.3);
        g.append('text').attr('x', 709.7).attr('y', b.label).attr('dy', '0.35em')
            .style('font-size', '16px').text(typologyNames[i]);
    });
}

function drawLegend() {
    const rowY = [436.7, 457.5, 478.5, 498.5, 519.5];
    const swatchX = [20.5, 308.5, 596.5];
    const textX = [47.7, 336, 621];
    const g = svg.append('g');
    legendLabels.forEach((label, i) => {
        const col = Math.floor(i / 5), row = i % 5;
        if (legendStates[i] !== null) {
            g.append('rect').attr('x', swatchX[col]).attr('y', rowY[row] - 6.2)
                .attr('width', 16.5).attr('height', 12.4)
                .attr('fill', fillColors[legendStates[i]])
                .attr('stroke', lineColors[legendStates[i]]).attr('stroke-opacity', 0.4).attr('stroke-width', 0.6);
        }
        g.append('text').attr('x', textX[col]).attr('y', rowY[row]).attr('dy', '0.35em')
            .style('font-size', '12.2px').text(label);
    });
}

function drawPanels() {
    const xMonth = d3.scaleLinear().domain([0, 33]).range([96.9, 96.9 + 33 * 16.57]);
    const g = svg.append('g');

    panels.forEach(panel => {
        const yPct = d3.scaleLinear().domain([0, 100]).range([panel.bottom, panel.top]);
        const yLabel = d3.scaleLinear().domain([0, 100]).range(panel.labelY);

        panel.tickValues.forEach(v => {
            g.append('line').attr('x1', panel.tickX).attr('x2', 643)
                .attr('y1', yPct(v)).attr('y2', yPct(v))
                .attr('stroke', '#e9f0f3').attr('stroke-width', 1);
        });

        // Bands run from the previous cumulative top to their own, and "other" fills to 100
        const tops = panel.bands.concat([panel.months.map(() => 100)]);
        tops.forEach((top, state) => {
            const below = state === 0 ? null : tops[state - 1];
            const area = d3.area()
                .x((d, i) => xMonth(d))
                .y0((d, i) => yPct(below ? below[i] : 0))
                .y1((d, i) => yPct(below ? Math.max(below[i], top[i]) : top[i]));
            g.append('path').datum(panel.months).attr('d', area)
                .attr('fill', fillColors[state])
                .attr('stroke', lineColors[state])
                .attr('stroke-width', 0.6)
                .attr('stroke-opacity', 0.75);
        });

        [0, 100].forEach(v => {
            g.append('text')
                .attr('transform', `translate(79,${yLabel(v)}) rotate(-90)`)
                .attr('text-anchor', 'middle').attr('dy', '0.35em')
                .style('font-size', '12.6px').text(v);
        });

        g.append('text').attr('x', 661.7).attr('y', panel.nameY).attr('dy', '0.35em')
            .style('font-size', '16px').text(panel.name);
    });

    // Shared date axis
    const tickMonths = dateLabels.map((d, i) => 0.02 + 3 * i);
    const xAxis = d3.axisBottom(xMonth).tickValues(tickMonths).tickSize(7).tickPadding(6)
        .tickFormat((d, i) => dateLabels[i]);
    const xg = g.append('g').attr('transform', 'translate(0,1072.3)').call(xAxis);
    xg.select('.domain').remove();
    xg.append('line').attr('class', 'domain').attr('x1', 95).attr('x2', 643);
    styleAxis(xg, 12.6);

    g.append('text').attr('x', 365).attr('y', 1122).attr('text-anchor', 'middle')
        .style('font-size', '15.5px').text('Date');
    g.append('text').attr('transform', 'translate(36,818) rotate(-90)').attr('text-anchor', 'middle').attr('dy', '0.35em')
        .style('font-size', '13.9px').text('Percentage of typology');
}

drawIndexPlot();
drawLegend();
drawPanels();
</script>
</body>
</html>
